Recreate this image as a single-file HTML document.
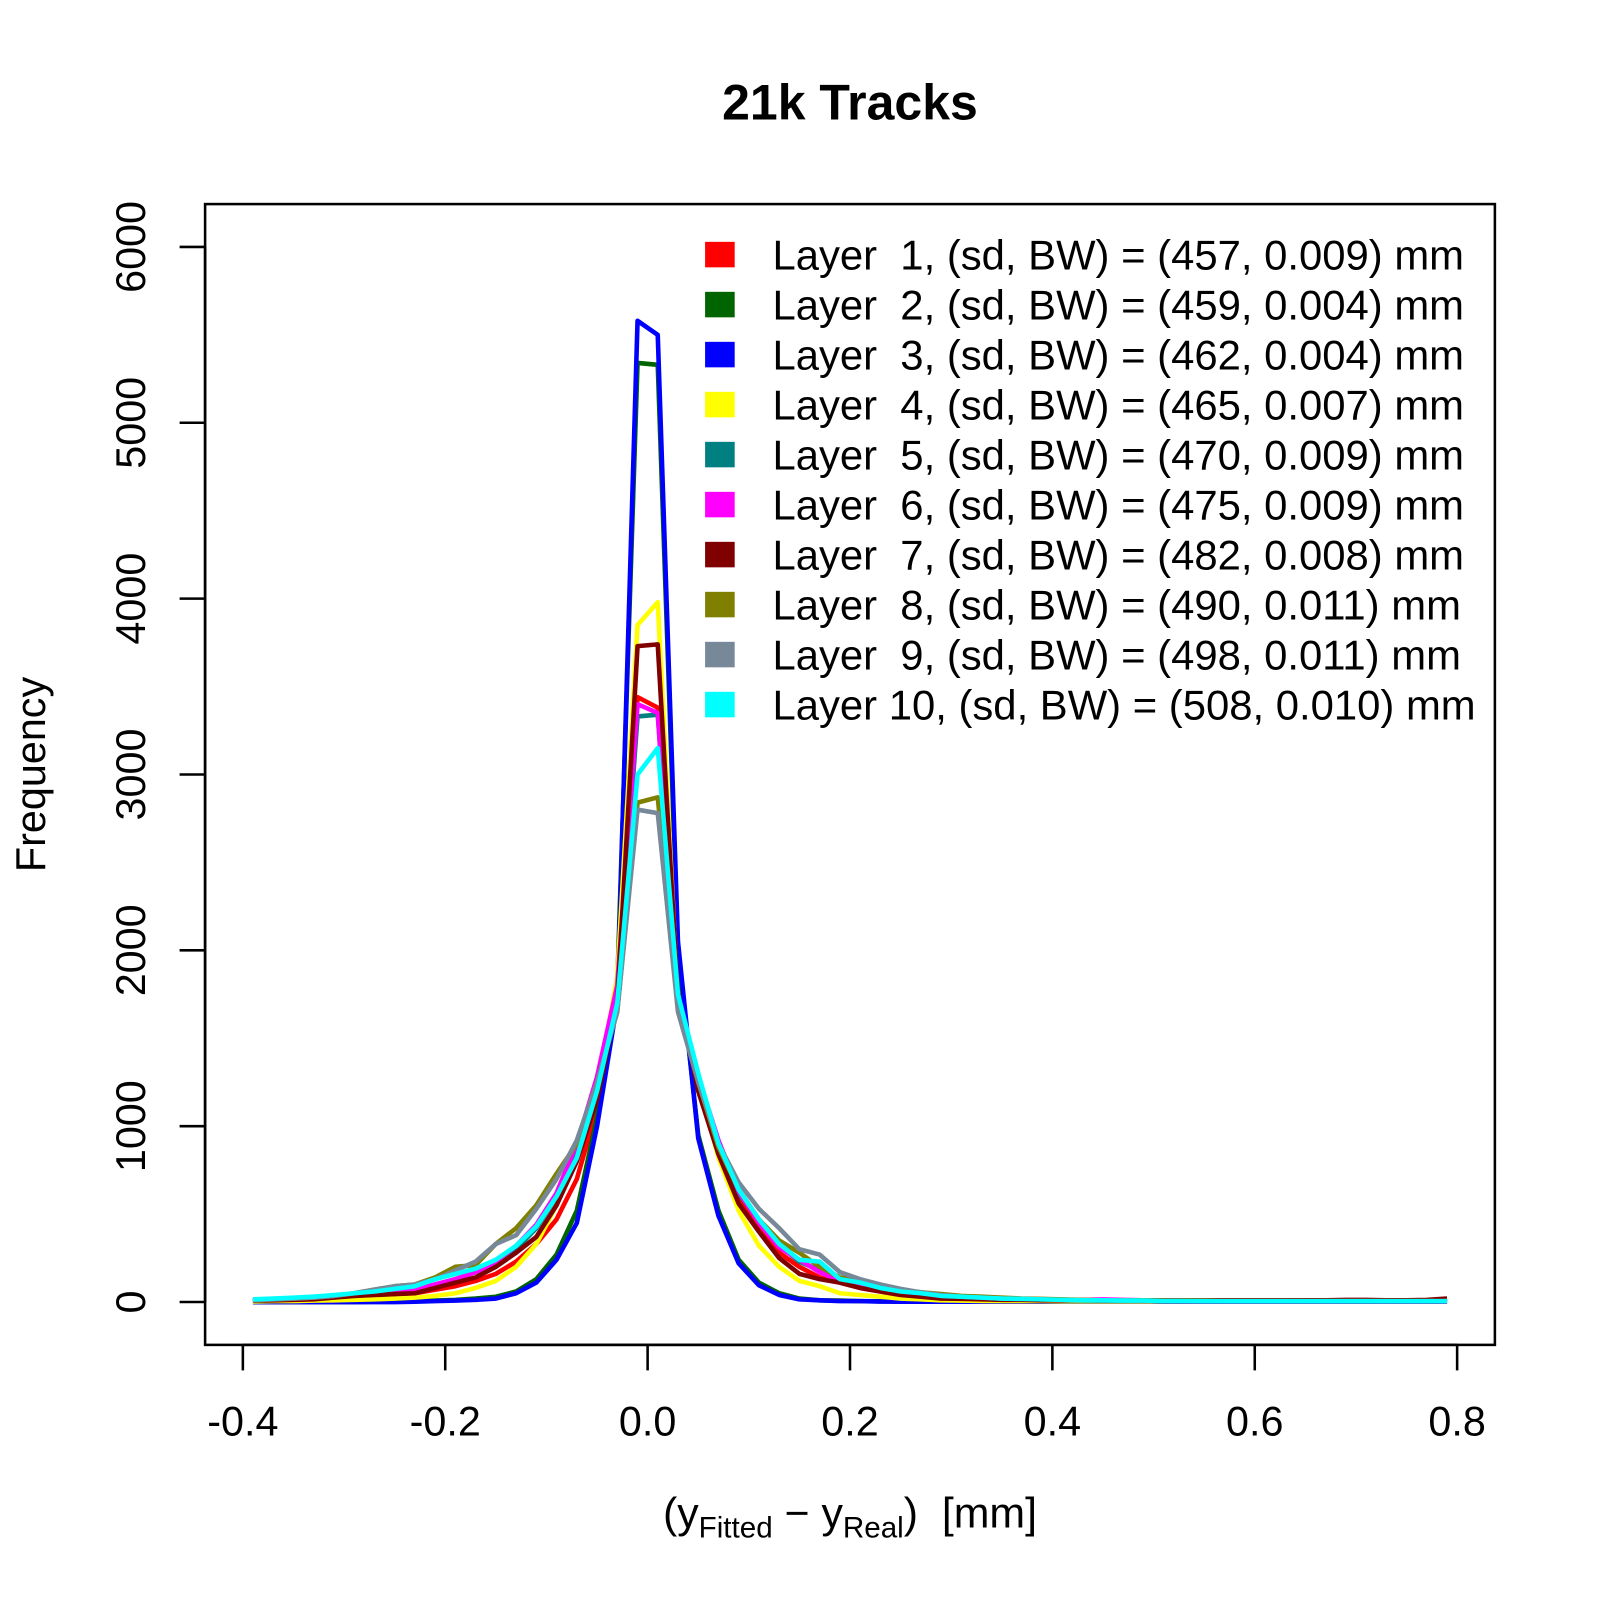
<!DOCTYPE html>
<html><head><meta charset="utf-8"><style>
body{margin:0;background:#fff}
svg{display:block;font-family:"Liberation Sans",sans-serif}
text{white-space:pre}
</style></head><body>
<svg id="chart" width="1600" height="1600" viewBox="0 0 1600 1600">
<g transform="scale(1.0204)">
<text x="833" y="117" text-anchor="middle" font-size="49" font-weight="bold">21k Tracks</text>
<rect x="201" y="200" width="1264" height="1118" fill="none" stroke="#000" stroke-width="2.5"/>
<g id="axes"></g>
<g id="lines"></g>
<g id="legend"></g>
<text x="31" y="759" transform="rotate(-90 31 759)" text-anchor="middle" font-size="40.5" dy="13">Frequency</text>
<text x="833" y="1497" text-anchor="middle" font-size="42">(y<tspan font-size="29" dy="10">Fitted</tspan><tspan dy="-10"> − y</tspan><tspan font-size="29" dy="10">Real</tspan><tspan dy="-10">)  [mm]</tspan></text>
</g>
</svg>
<script>
const xTicks=[-0.4,-0.2,0.0,0.2,0.4,0.6,0.8];
const xTickLabels=["-0.4","-0.2","0.0","0.2","0.4","0.6","0.8"];
const yTicks=[0,1000,2000,3000,4000,5000,6000];
const yTickLabels=["0","1000","2000","3000","4000","5000","6000"];
const xStart=-0.39, xStep=0.02;
const colors=["#ff0000","#006400","#0000ff","#ffff00","#008080","#ff00ff","#800000","#808000","#778899","#00ffff"];
const legendLabels=["Layer  1, (sd, BW) = (457, 0.009) mm","Layer  2, (sd, BW) = (459, 0.004) mm","Layer  3, (sd, BW) = (462, 0.004) mm","Layer  4, (sd, BW) = (465, 0.007) mm","Layer  5, (sd, BW) = (470, 0.009) mm","Layer  6, (sd, BW) = (475, 0.009) mm","Layer  7, (sd, BW) = (482, 0.008) mm","Layer  8, (sd, BW) = (490, 0.011) mm","Layer  9, (sd, BW) = (498, 0.011) mm","Layer 10, (sd, BW) = (508, 0.010) mm"];
const layer1=[5,8,10,15,20,30,40,45,50,70,90,120,160,230,330,470,700,1100,1750,3440,3380,1750,1200,850,580,420,280,200,140,110,80,60,40,30,20,15,12,10,10,8,8,6,6,5,5,5,5,5,5,5,5,5,5,5,5,5,5,5,8,18];
const layer2=[0,0,0,0,0,0,2,3,5,8,12,20,30,60,130,270,520,1050,1800,5340,5330,2000,950,520,240,110,50,20,10,8,5,4,3,2,2,2,2,2,2,2,2,2,2,2,2,2,2,2,2,2,2,2,2,2,2,2,2,2,2,2];
const layer3=[0,0,0,0,0,0,0,0,2,5,8,12,20,50,110,240,450,1000,1700,5580,5500,2050,930,490,220,95,40,15,10,5,5,3,2,2,2,2,2,2,2,2,2,2,2,2,2,2,2,2,2,2,2,2,2,2,2,2,2,2,2,2];
const layer4=[3,5,5,8,10,12,15,20,25,35,50,80,120,200,330,550,850,1200,1850,3850,3980,1700,1250,820,520,320,200,120,90,50,40,30,20,15,10,8,6,5,5,5,4,4,4,4,4,4,4,4,4,4,4,4,4,4,4,4,4,4,4,4];
const layer5=[10,15,18,22,30,40,50,60,70,100,130,170,220,300,420,600,850,1250,1750,3330,3340,1700,1250,880,620,460,320,230,180,120,100,70,50,40,30,25,20,18,15,12,10,10,8,8,8,6,6,6,5,5,5,5,5,5,5,5,5,5,5,5];
const layer6=[10,15,18,22,30,40,50,60,70,100,130,170,230,320,440,620,900,1280,1800,3400,3350,1700,1280,920,630,450,310,240,170,120,90,70,50,40,30,25,20,18,15,12,10,12,15,12,10,8,6,6,5,5,5,5,5,5,5,5,5,5,5,5];
const layer7=[8,10,12,15,25,35,40,45,50,80,110,140,200,280,370,550,800,1150,1700,3730,3740,1750,1200,840,560,400,250,160,130,110,80,60,40,30,20,18,15,12,12,10,10,10,10,10,10,10,10,10,10,10,10,10,10,10,12,12,10,10,12,20];
const layer8=[10,15,20,25,35,50,70,90,100,140,200,210,330,420,550,730,900,1250,1650,2840,2870,1700,1250,880,640,470,350,280,200,140,120,90,70,55,45,35,30,25,20,18,15,12,10,10,10,8,8,8,6,6,6,6,5,5,5,5,5,5,5,5];
const layer9=[10,15,20,25,35,50,70,90,100,130,180,230,330,380,530,700,920,1250,1650,2800,2780,1650,1250,900,680,530,420,300,270,170,130,100,75,55,40,30,25,20,18,15,12,10,10,8,8,6,6,5,5,5,5,5,5,5,5,5,5,5,5,5];
const layer10=[15,20,25,30,40,50,60,75,90,130,160,190,240,320,430,600,820,1200,1700,3000,3150,1750,1300,900,640,470,330,240,230,130,110,80,60,50,35,30,25,20,18,15,12,10,10,8,8,6,6,5,5,5,5,5,5,5,5,5,5,5,5,5];
const series=[layer1,layer2,layer3,layer4,layer5,layer6,layer7,layer8,layer9,layer10];
const NS="http://www.w3.org/2000/svg";
function X(v){return 238+(v+0.4)*(1428-238)/1.2;}
function Y(v){return 1276-v*(1276-242)/6000;}
function mk(tag,attrs,parent){const e=document.createElementNS(NS,tag);for(const k in attrs)e.setAttribute(k,attrs[k]);parent.appendChild(e);return e;}
const axes=document.getElementById('axes');
mk('line',{x1:X(xTicks[0]),x2:X(xTicks[xTicks.length-1]),y1:1318,y2:1318,stroke:'#000','stroke-width':2.5},axes);
mk('line',{x1:201,x2:201,y1:Y(yTicks[0]),y2:Y(yTicks[yTicks.length-1]),stroke:'#000','stroke-width':2.5},axes);
xTicks.forEach((t,i)=>{
  const l=mk('line',{x1:X(t),x2:X(t),y1:1318,y2:1343,stroke:'#000','stroke-width':2.5},axes);
  
  
  const tx=mk('text',{x:X(t),y:1407,'text-anchor':'middle','font-size':40.5},axes);
  tx.textContent=xTickLabels[i];
  
  
});
yTicks.forEach((t,i)=>{
  const l=mk('line',{x1:176,x2:201,y1:Y(t),y2:Y(t),stroke:'#000','stroke-width':2.5},axes);
  
  
  const tx=mk('text',{x:142,y:Y(t),'text-anchor':'middle','font-size':40.5,transform:`rotate(-90 142 ${Y(t)})`},axes);
  tx.textContent=yTickLabels[i];
  
  
});
const lines=document.getElementById('lines');
series.forEach((s,k)=>{
  const pts=s.map((v,i)=>X(xStart+i*xStep).toFixed(1)+','+Y(v).toFixed(1)).join(' ');
  const p=mk('polyline',{points:pts,fill:'none',stroke:colors[k],'stroke-width':4.5,'stroke-linejoin':'round'},lines);
  
  
});
const lg=document.getElementById('legend');
legendLabels.forEach((lab,k)=>{
  const y=249+k*49;
  const r=mk('rect',{x:691,y:y-12,width:29,height:25,fill:colors[k]},lg);
  
  
  const t=mk('text',{x:757,y:y+15,'font-size':41},lg);
  t.textContent=lab;
  
  
});
</script>
</body></html>
